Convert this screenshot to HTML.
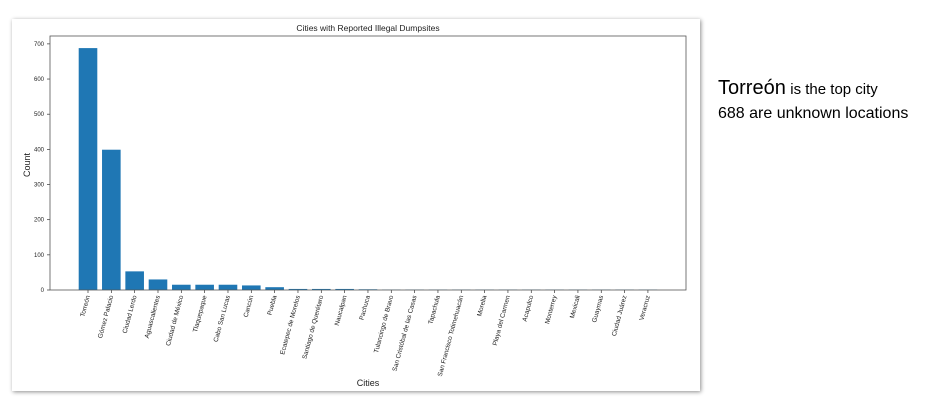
<!DOCTYPE html>
<html><head><meta charset="utf-8"><style>
html,body{margin:0;padding:0;background:#fff;width:925px;height:404px;overflow:hidden;font-family:"Liberation Sans",sans-serif}
#card{position:absolute;left:12px;top:19px;width:688px;height:372px;background:#fff;box-shadow:1px 1px 4px rgba(0,0,0,0.45)}
#note{position:absolute;left:718px;top:76px;font-family:"Liberation Sans",sans-serif;color:#000;font-size:16px;line-height:24px;white-space:nowrap}
#note .big{font-size:20px}
#note .sm{font-size:15px}
</style></head><body>
<div id="card">
<svg id="chart" width="688" height="372"></svg>
</div>
<div id="note"><span class="big">Torreón</span> <span class="sm">is the top city</span><br>688 are unknown locations</div>
<script>
const categories=["Torreón","Gómez Palacio","Ciudad Lerdo","Aguascalientes","Ciudad de México","Tlaquepaque","Cabo San Lucas","Cancún","Puebla","Ecatepec de Morelos","Santiago de Querétaro","Naucalpan","Pachuca","Tulancingo de Bravo","San Cristóbal de las Casas","Tapachula","San Francisco Totimehuacán","Morelia","Playa del Carmen","Acapulco","Monterrey","Mexicali","Guaymas","Ciudad Juárez","Veracruz"];
const counts=[688,399,53,30,15,15,15,13,8,3,3,3,2,1,1,1,1,1,1,1,1,1,1,1,1];
const yTicks=[0,100,200,300,400,500,600,700];
const NS="http://www.w3.org/2000/svg";
const svg=document.getElementById('chart');
const ox=12,oy=19;
const L=50-ox,R=686-ox,T=36-oy,B=290-oy;
const yMax=722.4;
function y(v){return B-(v/yMax)*(B-T);}
const step=23.33, x0=88-ox;
function x(i){return x0+i*step;}
function el(t,a){const e=document.createElementNS(NS,t);for(const k in a)e.setAttribute(k,a[k]);svg.appendChild(e);return e;}
let t=el('text',{x:(L+R)/2,y:T-5,'text-anchor':'middle','font-size':'8.5',fill:'#222'});


t.textContent='Cities with Reported Illegal Dumpsites';
categories.forEach((c,i)=>{
  const r=el('rect',{x:x(i)-9.3,y:y(counts[i]),width:18.6,height:Math.max(0,B-y(counts[i])),fill:'#1f77b4'});
  
  
  el('line',{x1:x(i),x2:x(i),y1:B,y2:B+3,stroke:'#333','stroke-width':0.7});
  const lb=el('text',{x:0,y:0,transform:`translate(${x(i)+2},${B+6}) rotate(-75)`,'text-anchor':'end','font-size':'6.5','fill':'#222'});
  
  
  lb.textContent=c;
});
yTicks.forEach(v=>{
  el('line',{x1:L-3,x2:L,y1:y(v),y2:y(v),stroke:'#333','stroke-width':0.7});
  const lb=el('text',{x:L-6,y:y(v)+2,'text-anchor':'end','font-size':'6',fill:'#222'});
  
  
  lb.textContent=v;
});
const ax=el('rect',{x:L,y:T,width:R-L,height:B-T,fill:'none',stroke:'#555','stroke-width':0.8});


let yl=el('text',{x:0,y:0,transform:`translate(${30-ox},${165-oy}) rotate(-90)`,'text-anchor':'middle','font-size':'9',fill:'#222'});


yl.textContent='Count';
let xl=el('text',{x:(L+R)/2,y:386-oy,'text-anchor':'middle','font-size':'9',fill:'#222'});


xl.textContent='Cities';
</script>
</body></html>
